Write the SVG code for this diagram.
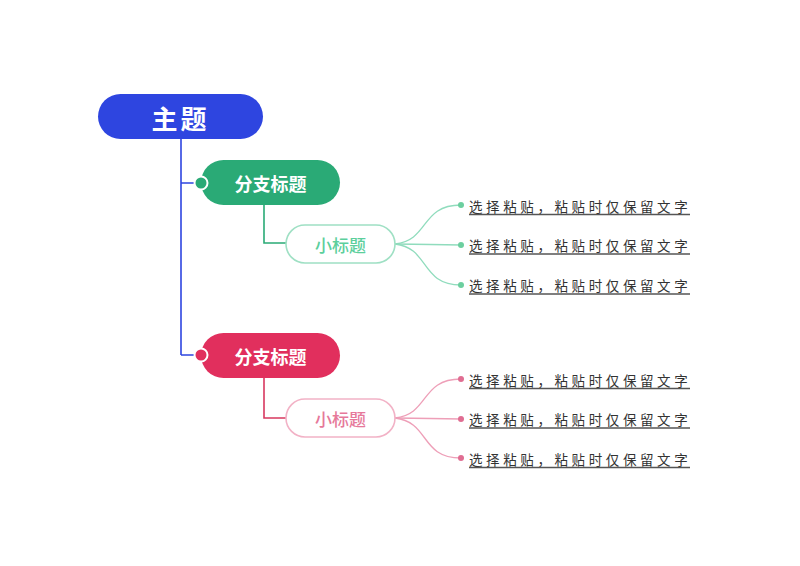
<svg xmlns="http://www.w3.org/2000/svg" width="800" height="566" viewBox="0 0 800 566">
<style>
.t{font-family:"Noto Sans CJK SC","Noto Sans",sans-serif;}
.main{font-size:26px;font-weight:700;fill:#fff;}
.br{font-size:18px;font-weight:700;fill:#fff;}
.sub{font-size:17px;font-weight:500;}
.leaf{font-size:13.5px;fill:#333;letter-spacing:3.6px;}
.ul{stroke:#555;stroke-width:1.4;}
</style>
<rect width="800" height="566" fill="#fff"/>
<g id="connectors" fill="none">
  <path d="M181 139 V355 M181 183 H196 M181 355 H196" stroke="#2e45e0" stroke-width="1.6"/>
  <path d="M264 205 V243 H286" stroke="#2aaa76" stroke-width="1.6"/>
  <path d="M264 378 V418 H286" stroke="#d8385f" stroke-width="1.6"/>
  <g stroke="#90dcbd" stroke-width="1.3">
    <path d="M395 244 C430 240 420 205 461 205"/>
    <path d="M395 244 C430 244 430 245 461 245"/>
    <path d="M395 244 C430 248 420 285 461 285"/>
  </g>
  <g stroke="#ee9fb8" stroke-width="1.3">
    <path d="M395 418 C430 414 420 379 461 379"/>
    <path d="M395 418 C430 418 430 419 461 419"/>
    <path d="M395 418 C430 422 420 458 461 458"/>
  </g>
</g>
<g id="main">
  <rect x="98" y="94" width="165" height="45" rx="22.5" fill="#2e45e0"/>
  <text class="t main" x="180.5" y="117" text-anchor="middle" dominant-baseline="central" letter-spacing="3">主题</text>
</g>
<g id="branch1">
  <rect x="201" y="160" width="139" height="45" rx="22.5" fill="#2aaa76"/>
  <circle cx="201" cy="183" r="6.5" fill="#2aaa76" stroke="#fff" stroke-width="2"/>
  <text class="t br" x="270.5" y="183" text-anchor="middle" dominant-baseline="central">分支标题</text>
</g>
<g id="sub1">
  <rect x="286" y="225" width="109" height="38" rx="19" fill="#fff" stroke="#9fe0c4" stroke-width="1.6"/>
  <text class="t sub" x="340.5" y="244" text-anchor="middle" dominant-baseline="central" fill="#5ccf9c">小标题</text>
</g>
<g id="branch2">
  <rect x="201" y="333" width="139" height="45" rx="22.5" fill="#e12f5d"/>
  <circle cx="201" cy="355" r="6.5" fill="#e12f5d" stroke="#fff" stroke-width="2"/>
  <text class="t br" x="270.5" y="356" text-anchor="middle" dominant-baseline="central">分支标题</text>
</g>
<g id="sub2">
  <rect x="286" y="399" width="109" height="38" rx="19" fill="#fff" stroke="#f2b2c6" stroke-width="1.6"/>
  <text class="t sub" x="340.5" y="418" text-anchor="middle" dominant-baseline="central" fill="#e6789a">小标题</text>
</g>
<g id="leaf1">
  <circle cx="461" cy="205" r="3" fill="#6ccf9f"/>
  <text class="t leaf" x="469" y="206" dominant-baseline="central">选择粘贴，粘贴时仅保留文字</text>
  <line class="ul" x1="469" y1="214.5" x2="690" y2="214.5"/>
</g>
<g id="leaf2">
  <circle cx="461" cy="245" r="3" fill="#6ccf9f"/>
  <text class="t leaf" x="469" y="245" dominant-baseline="central">选择粘贴，粘贴时仅保留文字</text>
  <line class="ul" x1="469" y1="254" x2="690" y2="254"/>
</g>
<g id="leaf3">
  <circle cx="461" cy="285" r="3" fill="#6ccf9f"/>
  <text class="t leaf" x="469" y="285" dominant-baseline="central">选择粘贴，粘贴时仅保留文字</text>
  <line class="ul" x1="469" y1="294" x2="690" y2="294"/>
</g>
<g id="leaf4">
  <circle cx="461" cy="379" r="3" fill="#e06d92"/>
  <text class="t leaf" x="469" y="380" dominant-baseline="central">选择粘贴，粘贴时仅保留文字</text>
  <line class="ul" x1="469" y1="388.5" x2="690" y2="388.5"/>
</g>
<g id="leaf5">
  <circle cx="461" cy="419" r="3" fill="#e06d92"/>
  <text class="t leaf" x="469" y="419" dominant-baseline="central">选择粘贴，粘贴时仅保留文字</text>
  <line class="ul" x1="469" y1="428" x2="690" y2="428"/>
</g>
<g id="leaf6">
  <circle cx="461" cy="458" r="3" fill="#e06d92"/>
  <text class="t leaf" x="469" y="459" dominant-baseline="central">选择粘贴，粘贴时仅保留文字</text>
  <line class="ul" x1="469" y1="467.5" x2="690" y2="467.5"/>
</g>
</svg>
